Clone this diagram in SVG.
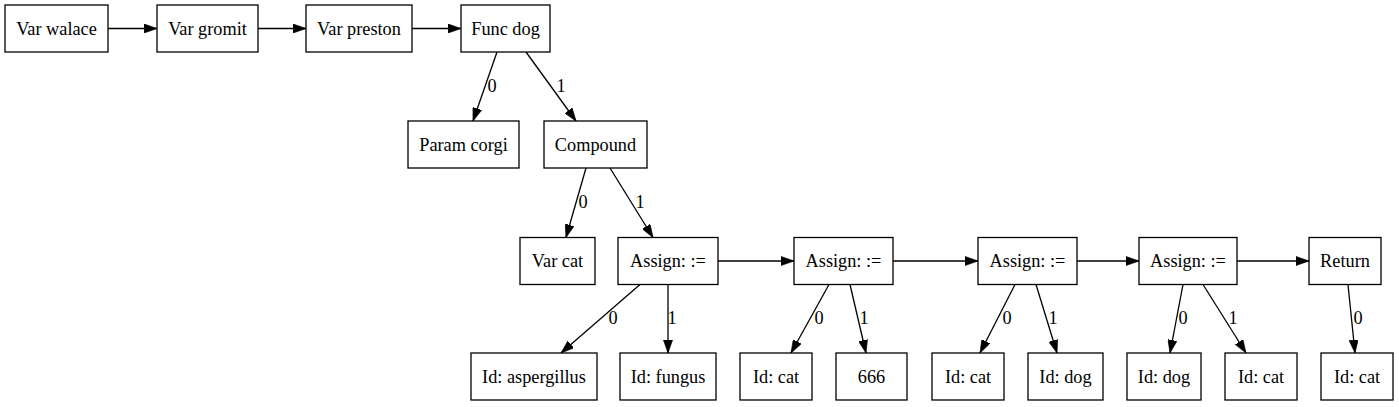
<svg xmlns="http://www.w3.org/2000/svg" width="1399" height="407" viewBox="0 0 1399 407" font-family="'Liberation Serif', 'Times New Roman', serif">
<defs>
<marker id="ah" viewBox="0 0 10 7" refX="10" refY="3.5" markerWidth="13" markerHeight="9.2" markerUnits="userSpaceOnUse" orient="auto">
<path d="M0,0 L10,3.5 L0,7 z" fill="#000" stroke="#000" stroke-width="0.5"/>
</marker>
</defs>
<style>
rect{fill:#fff;stroke:#000;stroke-width:1.3}
text{font-family:'Liberation Serif','Times New Roman',serif;font-size:18.3px;fill:#000;text-anchor:middle}
#edges line{stroke:#000;stroke-width:1.3;marker-end:url(#ah)}
</style>
<rect x="0" y="0" width="1399" height="407" style="fill:#fff;stroke:none"/>
<g id="edges">
<line x1="108" y1="28.5" x2="157" y2="28.5"/>
<line x1="258" y1="28.5" x2="306" y2="28.5"/>
<line x1="412" y1="28.5" x2="461" y2="28.5"/>
<line x1="497" y1="52" x2="473" y2="121"/>
<text x="492" y="92">0</text>
<line x1="526" y1="52" x2="576" y2="121"/>
<text x="561" y="92">1</text>
<line x1="586" y1="168" x2="566" y2="237.5"/>
<text x="583" y="208">0</text>
<line x1="610" y1="168" x2="653" y2="237.5"/>
<text x="640" y="208">1</text>
<line x1="718" y1="261" x2="794" y2="261"/>
<line x1="893" y1="261" x2="978" y2="261"/>
<line x1="1077" y1="261" x2="1139" y2="261"/>
<line x1="1237" y1="261" x2="1309" y2="261"/>
<line x1="640" y1="284.5" x2="561" y2="353"/>
<text x="613" y="324">0</text>
<line x1="668" y1="284.5" x2="668" y2="353"/>
<text x="672" y="324">1</text>
<line x1="829" y1="284.5" x2="791" y2="353"/>
<text x="819" y="324">0</text>
<line x1="850" y1="284.5" x2="866" y2="353"/>
<text x="864" y="324">1</text>
<line x1="1015" y1="284.5" x2="980" y2="353"/>
<text x="1007" y="324">0</text>
<line x1="1036" y1="284.5" x2="1057" y2="353"/>
<text x="1053" y="324">1</text>
<line x1="1183" y1="284.5" x2="1170" y2="353"/>
<text x="1183" y="324">0</text>
<line x1="1203" y1="284.5" x2="1246" y2="353"/>
<text x="1233" y="324">1</text>
<line x1="1348" y1="284.5" x2="1355" y2="353"/>
<text x="1358" y="324">0</text>
</g>
<g id="n_walace"><rect x="5" y="5" width="103" height="47"/><text x="56.5" y="34.5">Var walace</text></g>
<g id="n_gromit"><rect x="157" y="5" width="101" height="47"/><text x="207.5" y="34.5">Var gromit</text></g>
<g id="n_preston"><rect x="306" y="5" width="106" height="47"/><text x="359" y="34.5">Var preston</text></g>
<g id="n_funcdog"><rect x="461" y="5" width="89" height="47"/><text x="505.5" y="34.5">Func dog</text></g>
<g id="n_param"><rect x="408" y="121" width="111" height="47"/><text x="463.5" y="150.5">Param corgi</text></g>
<g id="n_compound"><rect x="544" y="121" width="103" height="47"/><text x="595.5" y="150.5">Compound</text></g>
<g id="n_varcat"><rect x="520" y="237.5" width="75" height="47"/><text x="557.5" y="267">Var cat</text></g>
<g id="n_assign1"><rect x="618" y="237.5" width="100" height="47"/><text x="668" y="267">Assign: :=</text></g>
<g id="n_assign2"><rect x="794" y="237.5" width="99" height="47"/><text x="843.5" y="267">Assign: :=</text></g>
<g id="n_assign3"><rect x="978" y="237.5" width="99" height="47"/><text x="1027.5" y="267">Assign: :=</text></g>
<g id="n_assign4"><rect x="1139" y="237.5" width="98" height="47"/><text x="1188" y="267">Assign: :=</text></g>
<g id="n_return"><rect x="1309" y="237.5" width="72" height="47"/><text x="1345" y="267">Return</text></g>
<g id="n_asp"><rect x="471" y="353" width="126" height="47"/><text x="534" y="382.5">Id: aspergillus</text></g>
<g id="n_fungus"><rect x="620" y="353" width="96" height="47"/><text x="668" y="382.5">Id: fungus</text></g>
<g id="n_cat1"><rect x="740" y="353" width="72" height="47"/><text x="776" y="382.5">Id: cat</text></g>
<g id="n_666"><rect x="836" y="353" width="71" height="47"/><text x="871.5" y="382.5">666</text></g>
<g id="n_cat2"><rect x="932" y="353" width="72" height="47"/><text x="968" y="382.5">Id: cat</text></g>
<g id="n_dog1"><rect x="1028" y="353" width="75" height="47"/><text x="1065.5" y="382.5">Id: dog</text></g>
<g id="n_dog2"><rect x="1127" y="353" width="74" height="47"/><text x="1164" y="382.5">Id: dog</text></g>
<g id="n_cat3"><rect x="1225" y="353" width="72" height="47"/><text x="1261" y="382.5">Id: cat</text></g>
<g id="n_cat4"><rect x="1321" y="353" width="72" height="47"/><text x="1357" y="382.5">Id: cat</text></g>
</svg>
